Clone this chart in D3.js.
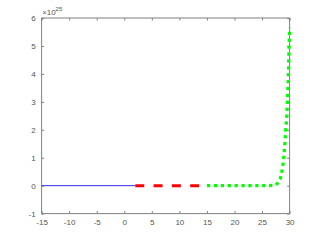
<!DOCTYPE html>
<html>
<head>
<meta charset="utf-8">
<script src="https://cdn.jsdelivr.net/npm/d3@7"></script>
<style>
  body { margin: 0; background: #fff; }
  svg text { font-family: "Liberation Sans", Arial, sans-serif; font-size: 8px; fill: #555; }
</style>
</head>
<body>
<div id="chart"></div>
<script>
// values in units of 1e25
const blueX = [-15, 2];
const blueY = [0, 0];

const redX = [2, 15];
const redY = [0, 0];

const greenX = [15, 17, 19, 21, 23, 25, 26, 27, 27.5, 27.8, 28, 28.3, 28.5, 28.75, 29, 29.25, 29.5, 29.75, 30];
const greenY = [0, 0, 0, 0, 0, 0, 0, 0.01, 0.03, 0.08, 0.13, 0.24, 0.4, 0.68, 1.1, 1.85, 2.5, 3.7, 5.65];

const xTicks = [-15, -10, -5, 0, 5, 10, 15, 20, 25, 30];
const yTicks = [-1, 0, 1, 2, 3, 4, 5, 6];

const width = 320;
const height = 240;
const margin = { left: 41.6, right: 30.4, top: 18, bottom: 26.4 };

const svg = d3
  .select('#chart')
  .append('svg')
  .attr('width', width)
  .attr('height', height);

const x = d3.scaleLinear().domain([-15, 30]).range([margin.left, width - margin.right]);
const y = d3.scaleLinear().domain([-1, 6]).range([height - margin.bottom, margin.top]);

/* Axes
-----------------------------------------------------------------------------*/
const tickLen = 2.5;
const axisColor = '#808080';
const plain = (d) => String(d);

function styleAxis(g) {
  g.select('.domain').remove();
  g.selectAll('.tick line').attr('stroke', axisColor);
  g.selectAll('.tick text').attr('fill', '#555').style('font-size', '8px');
}

svg.append('g')
  .attr('transform', `translate(0,${y(-1)})`)
  .call(d3.axisBottom(x).tickValues(xTicks).tickFormat(plain).tickSizeInner(-tickLen).tickSizeOuter(0).tickPadding(6))
  .call(styleAxis);

svg.append('g')
  .attr('transform', `translate(0,${y(6)})`)
  .call(d3.axisTop(x).tickValues(xTicks).tickSizeInner(-tickLen).tickSizeOuter(0).tickFormat(''))
  .call(styleAxis);

svg.append('g')
  .attr('transform', `translate(${x(-15)},0)`)
  .call(d3.axisLeft(y).tickValues(yTicks).tickFormat(plain).tickSizeInner(-tickLen).tickSizeOuter(0).tickPadding(6))
  .call(styleAxis);

svg.append('g')
  .attr('transform', `translate(${x(30)},0)`)
  .call(d3.axisRight(y).tickValues(yTicks).tickSizeInner(-tickLen).tickSizeOuter(0).tickFormat(''))
  .call(styleAxis);

svg.append('rect')
  .attr('x', x(-15))
  .attr('y', y(6))
  .attr('width', x(30) - x(-15))
  .attr('height', y(-1) - y(6))
  .attr('fill', 'none')
  .attr('stroke', axisColor)
  .attr('stroke-width', 1);

// exponent label
const expo = svg.append('text')
  .attr('x', x(-15) + 1)
  .attr('y', y(6) - 3);
expo.append('tspan').style('font-size', '7px').text('\u00d7');
expo.append('tspan').style('font-size', '8px').text('10');
expo.append('tspan').attr('dy', -4).style('font-size', '6px').text('25');

/* Lines
-----------------------------------------------------------------------------*/
const line = d3.line().x((d) => x(d[0])).y((d) => y(d[1]));

svg.append('path')
  .attr('d', line(d3.zip(blueX, blueY)))
  .attr('fill', 'none')
  .attr('stroke', '#3030e0')
  .attr('stroke-width', 1);

svg.append('path')
  .attr('d', line(d3.zip(redX, redY)))
  .attr('fill', 'none')
  .attr('stroke', '#ff0000')
  .attr('stroke-width', 3)
  .attr('stroke-dasharray', '9 9.3');

svg.append('path')
  .attr('d', line(d3.zip(greenX, greenY)))
  .attr('fill', 'none')
  .attr('stroke', '#00ff00')
  .attr('stroke-width', 3.3)
  .attr('stroke-dasharray', '3.3 3.6');
</script>
</body>
</html>
